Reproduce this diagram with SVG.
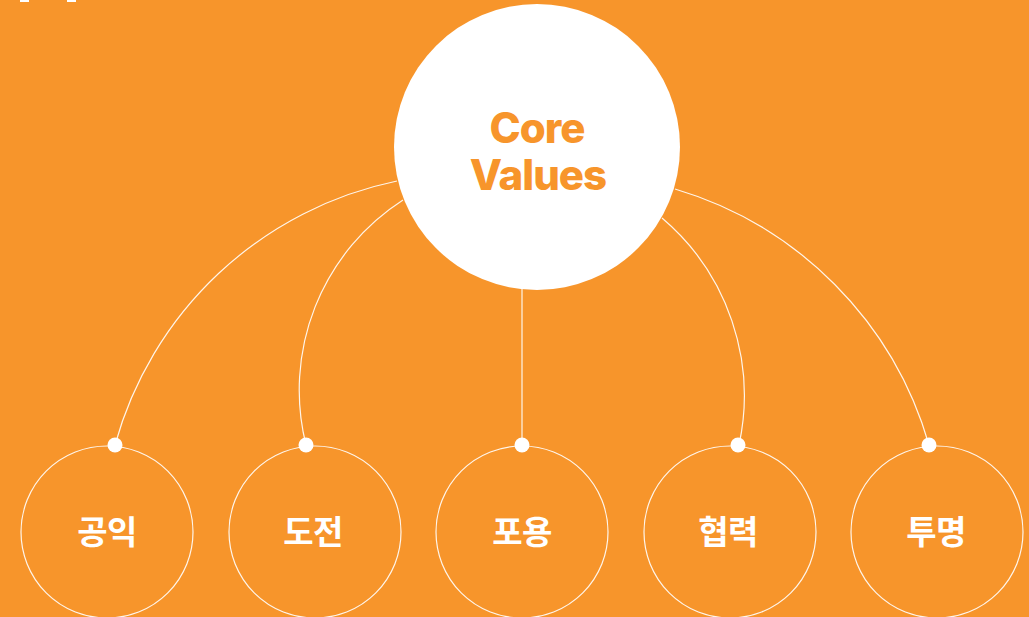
<svg xmlns="http://www.w3.org/2000/svg" width="1029" height="617" viewBox="0 0 1029 617">
<style>
.bg{fill:#F7952B}
.conn{fill:none;stroke:#FFFFFF;stroke-opacity:0.9;stroke-width:1.2}
.ring{fill:none;stroke:#FFFFFF;stroke-opacity:0.9;stroke-width:1.2}
.dot{fill:#FFFFFF}
.core{fill:#F7952B;font-family:Inter,"Liberation Sans",sans-serif;font-weight:800;font-size:42px;letter-spacing:-1px;text-anchor:middle}
.lbl{fill:#FFFFFF;font-family:"Noto Sans CJK KR","Noto Sans",sans-serif;font-weight:700;font-size:33px;letter-spacing:-0.5px;text-anchor:middle}
</style>
<rect class="bg" x="0" y="0" width="1029" height="617"/>
<rect x="20" y="0" width="9" height="2" fill="#FFFFFF"/>
<rect x="67" y="0" width="9" height="2" fill="#FFFFFF"/>
<g id="connectors">
<path class="conn" d="M397,181 A370,370 0 0 0 115,445"/>
<path class="conn" d="M403,200 A226,226 0 0 0 306,445"/>
<path class="conn" d="M522,289 L522,445"/>
<path class="conn" d="M662,218 A233,233 0 0 1 739,445"/>
<path class="conn" d="M675,189 A375,375 0 0 1 929,445"/>
</g>
<g id="core">
<circle cx="537" cy="147" r="143" fill="#FFFFFF"/>
<text class="core" x="537" y="143">Core</text>
<text class="core" x="538" y="190">Values</text>
</g>
<g id="node1">
<circle class="ring" cx="107" cy="532" r="86"/>
<circle class="dot" cx="115" cy="445" r="7.5"/>
<text class="lbl" x="107" y="544">공익</text>
</g>
<g id="node2">
<circle class="ring" cx="315" cy="532" r="86"/>
<circle class="dot" cx="306" cy="445" r="7.5"/>
<text class="lbl" x="313" y="544">도전</text>
</g>
<g id="node3">
<circle class="ring" cx="522" cy="532" r="86"/>
<circle class="dot" cx="522" cy="445" r="7.5"/>
<text class="lbl" x="522" y="544">포용</text>
</g>
<g id="node4">
<circle class="ring" cx="730" cy="532" r="86"/>
<circle class="dot" cx="738" cy="445" r="7.5"/>
<text class="lbl" x="728" y="544">협력</text>
</g>
<g id="node5">
<circle class="ring" cx="937" cy="532" r="86"/>
<circle class="dot" cx="929" cy="445" r="7.5"/>
<text class="lbl" x="936" y="544">투명</text>
</g>
</svg>
